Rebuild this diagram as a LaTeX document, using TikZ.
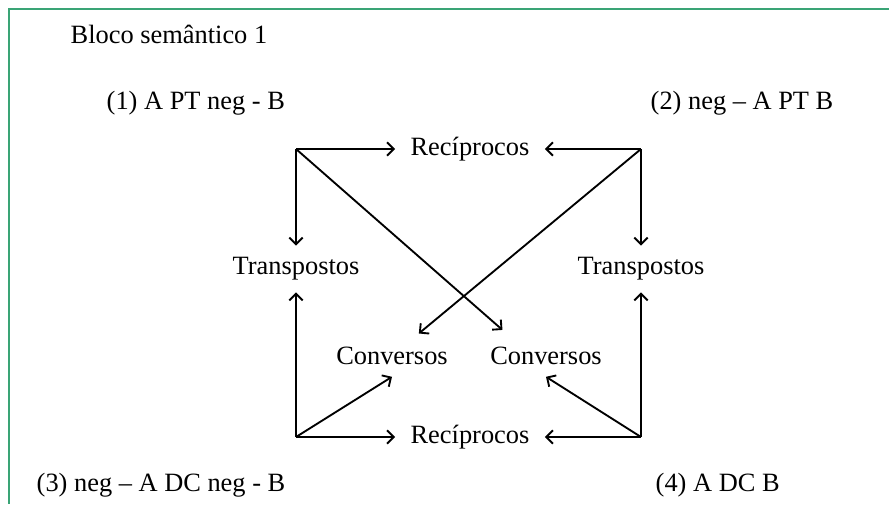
\documentclass[tikz,border=0pt]{standalone}
\usepackage{fontspec}
\setmainfont{Liberation Serif}
\usetikzlibrary{arrows.meta}
\definecolor{framegreen}{RGB}{58,164,118}
\begin{document}
\begin{tikzpicture}[x=0.75pt,y=-0.75pt]
    \tikzstyle{every node}=[font=\fontsize{19.8}{23}\selectfont]
    \tikzstyle{link}=[->,>={Straight Barb[length=5pt,width=10pt]},line width=1.4pt]
    \tikzstyle{relation}=[inner xsep=11.5pt,inner ysep=8.75pt]
    \useasboundingbox (0,0) rectangle (889,504);

    % Frame (top and left only)
    \draw [framegreen,line width=1.5pt] (889,9) -- (9,9) -- (9,504);

    % Titles and the four propositions
    \node [anchor=west] (title) at (66,34) {Bloco semântico 1};
    \node [anchor=west] (p1) at (102,103) {(1) A PT neg - B};
    \node [anchor=west] (p2) at (646,103) {(2) neg -- A PT B};
    \node [anchor=west] (p3) at (32,485) {(3) neg -- A DC neg - B};
    \node [anchor=west] (p4) at (651,485) {(4) A DC B};

    % Corners of the square
    \coordinate (c1) at (296,149);
    \coordinate (c2) at (641,149);
    \coordinate (c3) at (296,437);
    \coordinate (c4) at (641,437);

    % Relations
    \node [relation] (rtop) at (470,149) {Recíprocos};
    \node [relation] (rbot) at (470,437) {Recíprocos};
    \node [relation] (tleft) at (296,269) {Transpostos};
    \node [relation] (tright) at (641,269) {Transpostos};
    \node [relation] (cleft) at (392,356) {Conversos};
    \node [relation] (cright) at (546,356) {Conversos};

    % Row 1 (top corners)
    \draw [link] (c1) -- (rtop);
    \draw [link] (c2) -- (rtop);
    \draw [link] (c1) -- (tleft);
    \draw [link] (c2) -- (tright);
    \draw [link,shorten >=6pt] (c1) -- (cright.151);
    \draw [link,shorten >=2pt] (c2) -- (cleft.40);

    % Row 2 (bottom corners)
    \draw [link] (c3) -- (rbot);
    \draw [link] (c4) -- (rbot);
    \draw [link] (c3) -- (tleft);
    \draw [link] (c4) -- (tright);
    \draw [link] (c3) -- (cleft.south);
    \draw [link] (c4) -- (cright.south);

\end{tikzpicture}
\end{document}
